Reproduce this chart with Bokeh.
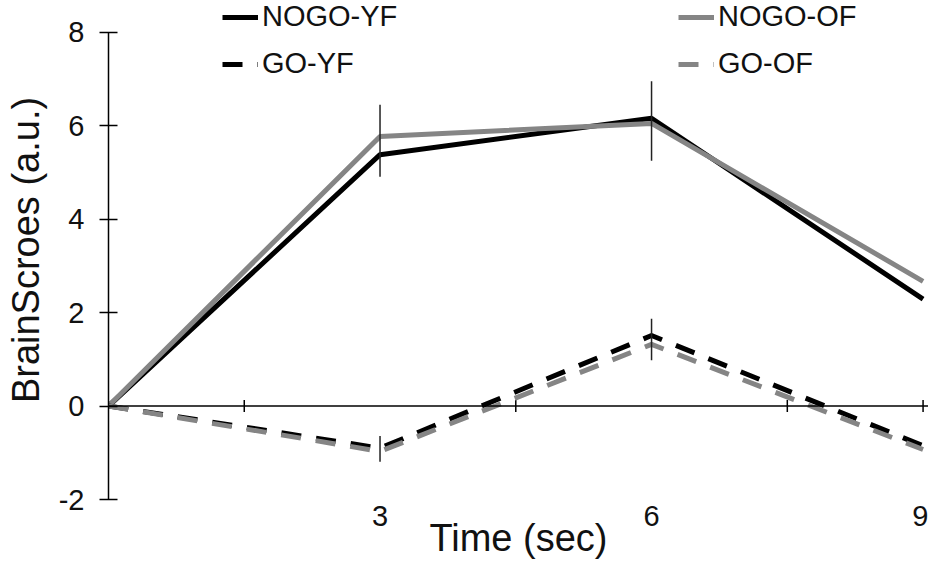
import numpy as np
from bokeh.plotting import figure
from bokeh.models import Legend, LegendItem, Span, FixedTicker, Range1d
from bokeh.embed import file_html
from bokeh.resources import INLINE

# ---- data ----
TIMES = [0, 3, 6, 9]
NOGO_YF = [0, 5.38, 6.16, 2.29]
NOGO_OF = [0, 5.77, 6.05, 2.67]
GO_YF = [0, -0.90, 1.51, -0.85]
GO_OF = [0, -0.97, 1.32, -0.93]

ERR_X = [3, 6, 3, 6]
ERR_LO = [4.91, 5.25, -1.19, 0.98]
ERR_HI = [6.45, 6.95, -0.64, 1.87]

Y_TICKS = [-2, 0, 2, 4, 6, 8]
Y_TICK_LABELS = {-2: "-2", 0: "0", 2: "2", 4: "4", 6: "6", 8: "8"}
X_LABEL_TICKS = [3, 6, 9]
X_MARK_TICKS = [1.5, 4.5, 7.5, 9]

BLACK = "#000000"
GRAY = "#858585"

p = figure(width=928, height=561, output_backend="svg", toolbar_location=None,
           x_range=Range1d(0, 9.06), y_range=Range1d(-2, 8.68),
           min_border_left=108, min_border_right=0, min_border_top=0,
           min_border_bottom=59)
p.outline_line_color = None
p.grid.grid_line_color = None
p.background_fill_color = "white"
p.border_fill_color = "white"

# y axis
ya = p.yaxis[0]
ya.ticker = FixedTicker(ticks=Y_TICKS)
ya.major_label_overrides = Y_TICK_LABELS
ya.bounds = (-2, 8)
ya.major_tick_in = 9
ya.major_tick_out = 9
ya.minor_tick_line_color = None
ya.axis_line_width = 1.5
ya.major_tick_line_width = 1.5
ya.major_label_text_font = "Liberation Sans"
ya.major_label_text_font_size = "29px"
ya.major_label_text_color = "#111111"
ya.major_label_standoff = 15
ya.axis_label = "BrainScroes (a.u.)"
ya.axis_label_text_font = "Liberation Sans"
ya.axis_label_text_font_size = "38px"
ya.axis_label_text_font_style = "normal"
ya.axis_label_text_color = "#111111"
ya.axis_label_standoff = 9

# x axis (labels only, below)
xa = p.xaxis[0]
xa.ticker = FixedTicker(ticks=X_LABEL_TICKS)
xa.axis_line_color = None
xa.major_tick_line_color = None
xa.minor_tick_line_color = None
xa.major_tick_in = 0
xa.major_tick_out = 0
xa.major_label_text_font = "Liberation Sans"
xa.major_label_text_font_size = "29px"
xa.major_label_text_color = "#111111"
xa.major_label_standoff = 6
xa.axis_label = "Time (sec)"
xa.axis_label_text_font = "Liberation Sans"
xa.axis_label_text_font_size = "38px"
xa.axis_label_text_font_style = "normal"
xa.axis_label_text_color = "#111111"
xa.axis_label_standoff = -12

# zero line acting as the x axis with crossing ticks
p.add_layout(Span(location=0, dimension="width", line_color=BLACK, line_width=1.5))
p.scatter(x=X_MARK_TICKS, y=[0] * len(X_MARK_TICKS), marker="dash", angle=np.pi / 2,
          size=12, line_color=BLACK, line_width=1.5)

# series
r_nyf = p.line(TIMES, NOGO_YF, line_color=BLACK, line_width=5)
r_nof = p.line(TIMES, NOGO_OF, line_color=GRAY, line_width=5)
r_gyf = p.line(TIMES, GO_YF, line_color=BLACK, line_width=5, line_dash="20 15")
r_gof = p.line(TIMES, GO_OF, line_color=GRAY, line_width=5, line_dash="20 15")

# error bars
p.segment(x0=ERR_X, y0=ERR_LO, x1=ERR_X, y1=ERR_HI, line_color="#222222", line_width=1.5)

def make_legend(items, loc):
    lg = Legend(items=items, location=loc, orientation="vertical",
                label_text_font="Liberation Sans", label_text_font_size="29px",
                label_text_color="#111111",
                glyph_width=36, glyph_height=28, label_standoff=4, spacing=14,
                padding=0, margin=0, border_line_color=None,
                background_fill_alpha=0)
    return lg

leg1 = make_legend([LegendItem(label="NOGO-YF", renderers=[r_nyf]),
                    LegendItem(label="GO-YF", renderers=[r_gyf])], (114, 419))
leg2 = make_legend([LegendItem(label="NOGO-OF", renderers=[r_nof]),
                    LegendItem(label="GO-OF", renderers=[r_gof])], (570, 419))
p.add_layout(leg1, "center")
p.add_layout(leg2, "center")

open("out.html", "w").write(file_html(p, INLINE))
